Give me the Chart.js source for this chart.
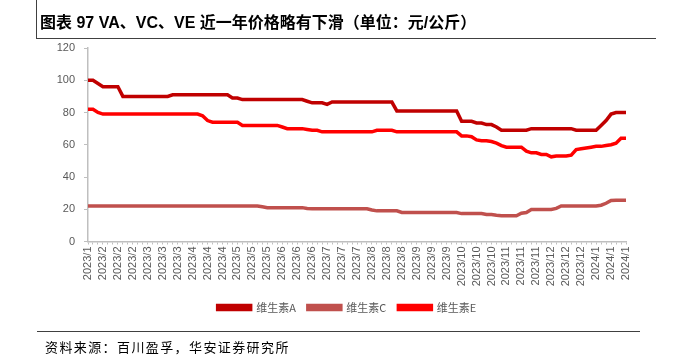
<!DOCTYPE html>
<html>
<head>
<meta charset="utf-8">
<script src="https://cdn.jsdelivr.net/npm/chart.js@4"></script>
<style>
body{margin:0;background:#fff;}
#wrap{position:relative;width:673px;height:363px;overflow:hidden;}
#title{position:absolute;left:36px;top:0;width:619px;height:38px;border-left:1px solid #404040;border-bottom:1px solid #404040;}
#title span{position:absolute;left:3px;top:9px;font:bold 16px "Liberation Sans","Noto Sans CJK SC",sans-serif;color:#000;white-space:nowrap;}
#source{position:absolute;left:37px;top:331px;width:603px;border-top:1px solid #404040;}
#source span{position:absolute;left:8px;top:5px;font:13px "Noto Sans CJK SC",sans-serif;letter-spacing:1.4px;color:#000;white-space:nowrap;}
#chartBox{position:absolute;left:0;top:0;width:673px;height:363px;}
</style>
</head>
<body>
<div id="wrap">
  <div id="chartBox"><canvas id="priceChart"></canvas></div>
  <div id="title"><span>图表 97 VA、VC、VE 近一年价格略有下滑（单位：元/公斤）</span></div>
  <div id="source"><span>资料来源：百川盈孚，华安证券研究所</span></div>
</div>
<script>
// x축 라벨 (3 포인트마다 1개)
var tickLabels = ['2023/1',
  '2023/2','2023/2','2023/2','2023/3','2023/3','2023/3','2023/4','2023/4','2023/4',
  '2023/5','2023/5','2023/5','2023/6','2023/6','2023/6','2023/7','2023/7','2023/7',
  '2023/8','2023/8','2023/8','2023/9','2023/9','2023/9','2023/10','2023/10','2023/10',
  '2023/11','2023/11','2023/11','2023/12','2023/12','2023/12','2024/1','2024/1','2024/1'];

var seriesNames = ['维生素A', '维生素C', '维生素E'];
var seriesColors = ['#C00000', '#C0504D', '#FF0000'];

var vaPrice = [100,100,98,96,96,96,96,90,
  90,90,90,90,90,90,90,90,90,
  91,91,91,91,91,91,91,91,91,91,91,91,
  89,89,
  88,88,88,88,88,88,88,88,88,88,88,88,88,
  87,86,86,86,85,
  86.5,86.5,86.5,86.5,86.5,86.5,86.5,86.5,86.5,86.5,86.5,86.5,86.5,
  81,81,81,81,81,81,81,81,81,81,81,81,81,
  74.5,74.5,74.5,73.5,73.5,72.5,72.5,71,
  69,69,69,69,69,69,
  70,70,70,70,70,70,70,70,70,
  69,69,69,69,69,
  72,75,79,80,80,80];

var vcPrice = [22,22,22,22,22,22,22,22,22,22,22,22,22,22,22,22,22,22,22,22,
  22,22,22,22,22,22,22,22,22,22,22,22,22,22,22,
  21.5,
  21,21,21,21,21,21,21,21,
  20.5,
  20.3,20.3,20.3,20.3,20.3,20.3,20.3,20.3,20.3,20.3,20.3,20.3,
  19.5,19,19,19,19,19,
  18,18,18,18,18,18,18,18,18,18,18,18,
  17.3,17.3,17.3,17.3,17.3,16.7,16.7,16.3,
  16,16,16,16,17.5,18,
  19.8,19.8,19.8,19.8,19.8,20.5,
  22,22,22,22,22,22,22,22,
  22.5,23.7,25.5,25.6,25.6,25.6];

var vePrice = [82,82,80,
  79,79,79,79,79,79,79,79,79,79,79,79,79,79,79,79,79,79,79,79,
  78,75,
  74,74,74,74,74,74,
  72,72,72,72,72,72,72,72,
  71,70,70,70,70,69.5,69,69,
  68,68,68,68,68,68,68,68,68,68,68,
  69,69,69,69,
  68,68,68,68,68,68,68,68,68,68,68,68,68,
  65.5,65.5,65,63,62.5,62.5,62,61,59.5,
  58.5,58.5,58.5,58.5,
  56,55,55,54,54,52.5,
  53,53,53,
  53.5,57,57.5,58,58.5,59,59,59.5,60,61,64,64];

var tickColor = '#595959';
var axisColor = '#BFBFBF';

// 범례를 원본처럼 오른쪽으로 조금 이동
var legendShift = {
	id : 'legendShift',
	afterLayout : function(chart){
		if(chart.legend){
			chart.legend.left += 34;
			chart.legend.right += 34;
		}
	}
};

function makeCategories(){
	var cats = new Array();
	for(var i=0; i<vaPrice.length; i++){
		cats.push(tickLabels[Math.floor((i+2)/3)]);
	}
	return cats;
}

function makeChartData(){
	var priceList = [vaPrice, vcPrice, vePrice];
	var sets = new Array();
	for(var i=0; i<priceList.length; i++){
		sets.push({
			label : seriesNames[i],
			data : priceList[i],
			borderColor : seriesColors[i],
			backgroundColor : seriesColors[i],
			borderWidth : 3.5,
			pointRadius : 0,
			tension : 0,
			fill : false
		});
	}
	return { labels : makeCategories(), datasets : sets };
}

function makeChartLine(chartId){
	var ctx = document.getElementById(chartId).getContext('2d');
	new Chart(ctx, {
		type : 'line',
		data : makeChartData(),
		plugins : [legendShift],
		options : {
			maintainAspectRatio : false,
			responsive : true,
			animation : false,
			layout : { padding : { left : 0, right : 47, top : 48, bottom : 40 } },
			plugins : {
				tooltip : { enabled : false },
				legend : {
					position : 'bottom',
					labels : {
						boxWidth : 33,
						boxHeight : 4,
						padding : 12,
						color : tickColor,
						font : { family : '"Noto Sans CJK SC", sans-serif', size : 11 }
					}
				}
			},
			scales : {
				x : {
					offset : false,
					grid : { display : true, drawOnChartArea : false, drawTicks : true, tickLength : 3, color : axisColor },
					border : { display : true, color : axisColor, width : 1.5 },
					ticks : {
						autoSkip : false,
						maxRotation : 90,
						minRotation : 90,
						padding : 2,
						color : tickColor,
						font : { family : '"Liberation Sans", Arial, sans-serif', size : 11 },
						callback : function(value, index){
							return index % 3 == 0 ? tickLabels[index / 3] : '';
						}
					},
					afterFit : function(scale){ scale.height = 48.5; }
				},
				y : {
					min : 0,
					max : 120,
					grid : { display : true, drawOnChartArea : false, drawTicks : true, tickLength : 4, color : axisColor },
					border : { display : true, color : axisColor, width : 1.5 },
					ticks : {
						stepSize : 20,
						padding : 9,
						color : tickColor,
						font : { family : '"Liberation Sans", Arial, sans-serif', size : 11 }
					},
					afterFit : function(scale){ scale.width = 88; }
				}
			}
		}
	});
}

makeChartLine('priceChart');
</script>
</body>
</html>
